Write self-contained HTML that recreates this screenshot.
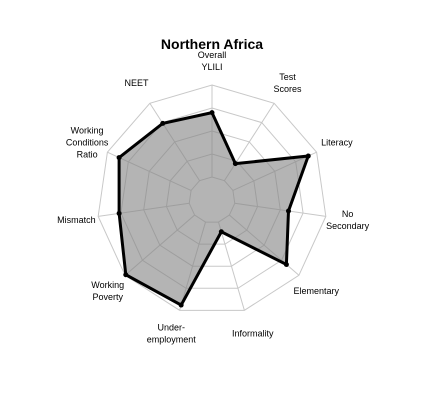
<!DOCTYPE html>
<html><head><meta charset="utf-8"><style>
body{margin:0;background:#fff;}
svg text{font-family:"Liberation Sans",Arial,sans-serif;}
</style></head><body>
<svg id="chart" width="425" height="400" xmlns="http://www.w3.org/2000/svg">
<rect width="425" height="400" fill="#fff"/>
<text x="212" y="49" text-anchor="middle" font-size="14" font-weight="bold">Northern Africa</text>
<g id="grid"></g><g id="series"></g><g id="labels"></g>
</svg>
<script>
const categories=[["Overall","YLILI"],["Test","Scores"],["Literacy"],["No","Secondary"],["Elementary"],["Informality"],["Under-","employment"],["Working","Poverty"],["Mismatch"],["Working","Conditions","Ratio"],["NEET"]];
const values=[0.70,0.22,0.90,0.59,0.82,0.11,0.94,0.99,0.77,0.86,0.74];
const ringLevels=[0,0.25,0.5,0.75,1];
const cx=212,cy=200,r0=23,R=115,NS="http://www.w3.org/2000/svg";
const n=categories.length;
function ang(i){return i*2*Math.PI/n;}
function rad(v){return r0+v*(R-r0);}
function pt(i,r){return [cx+r*Math.sin(ang(i)),cy-r*Math.cos(ang(i))];}
function mk(t,a,p){const e=document.createElementNS(NS,t);for(const k in a)e.setAttribute(k,a[k]);p.appendChild(e);return e;}
const grid=document.getElementById('grid');
ringLevels.forEach((lv,j)=>{
  const pts=categories.map((c,i)=>pt(i,rad(lv)).join(',')).join(' ');
  const e=mk('polygon',{points:pts,fill:'none',stroke:'#c8c8c8','stroke-width':1},grid);
  
  
});
categories.forEach((c,i)=>{
  const a=pt(i,rad(0)),b=pt(i,R);
  const e=mk('line',{x1:a[0],y1:a[1],x2:b[0],y2:b[1],stroke:'#c8c8c8','stroke-width':1},grid);
  
  
});
const s=document.getElementById('series');
const poly=mk('polygon',{points:values.map((v,i)=>pt(i,rad(v)).join(',')).join(' '),fill:'rgba(130,130,130,0.6)',stroke:'#000','stroke-width':3,'stroke-linejoin':'miter'},s);


values.forEach((v,i)=>{
  const p=pt(i,rad(v));
  const d=mk('circle',{cx:p[0],cy:p[1],r:2.5,fill:'#000'},s);
  
  
});
const lab=document.getElementById('labels');
categories.forEach((lines,i)=>{
  const sn=Math.sin(ang(i)),cs=Math.cos(ang(i));
  let x=cx+(R+19)*sn;
  const y=cy-(R+24)*cs;
  if(Math.abs(sn)>=0.2){x+=(sn>0?3:-3);}
  const y0=y-(lines.length-1)*6+3;
  const t=mk('text',{x:x,y:y0,'text-anchor':'middle','font-size':9,fill:'#000'},lab);
  
  
  lines.forEach((ln,k)=>{const ts=mk('tspan',{x:x,dy:k?12:0},t);ts.textContent=ln;});
});
</script>
</body></html>
